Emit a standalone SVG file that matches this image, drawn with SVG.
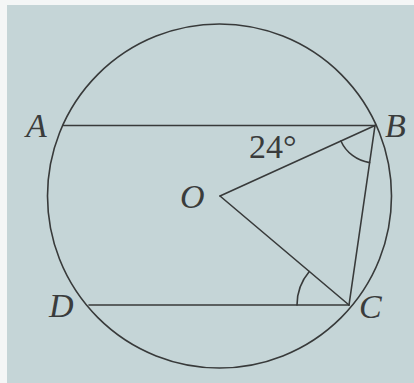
<svg xmlns="http://www.w3.org/2000/svg" width="414" height="383" viewBox="0 0 414 383">
<style>
.ln{stroke:#383a3a;stroke-width:1.6;fill:none;stroke-linecap:round}
.lbl{font-style:italic;fill:#3a3c3c}
.num{fill:#3a3c3c}
</style>
<rect x="0" y="0" width="414" height="383" fill="#f4f6f6"/>
<rect x="7" y="5" width="407" height="378" fill="#c5d5d7"/>
<g id="circle">
<circle class="ln" cx="219.5" cy="196" r="172"/>
</g>
<g id="connectors">
<line class="ln" x1="63.5" y1="125.5" x2="375" y2="125.5"/>
<line class="ln" x1="89" y1="305" x2="349" y2="305"/>
<line class="ln" x1="220" y1="196" x2="375" y2="125.5"/>
<line class="ln" x1="220" y1="196" x2="349" y2="305"/>
<line class="ln" x1="375" y1="125.5" x2="349" y2="305"/>
<path class="ln" d="M340.9,141 A37.5,37.5 0 0 0 369.6,162.6"/>
<path class="ln" d="M297,305 A52,52 0 0 1 309.3,271.5"/>
</g>
<g font-family="'Liberation Serif', 'DejaVu Serif', serif" font-size="34">
<g id="A"><text class="lbl" x="26" y="137">A</text></g>
<g id="B"><text class="lbl" x="385" y="137">B</text></g>
<g id="O"><text class="lbl" x="180" y="208">O</text></g>
<g id="C"><text class="lbl" x="359" y="318">C</text></g>
<g id="D"><text class="lbl" x="49" y="317">D</text></g>
<g id="angle-label"><text class="num" x="249" y="158">24°</text></g>
</g>
</svg>
